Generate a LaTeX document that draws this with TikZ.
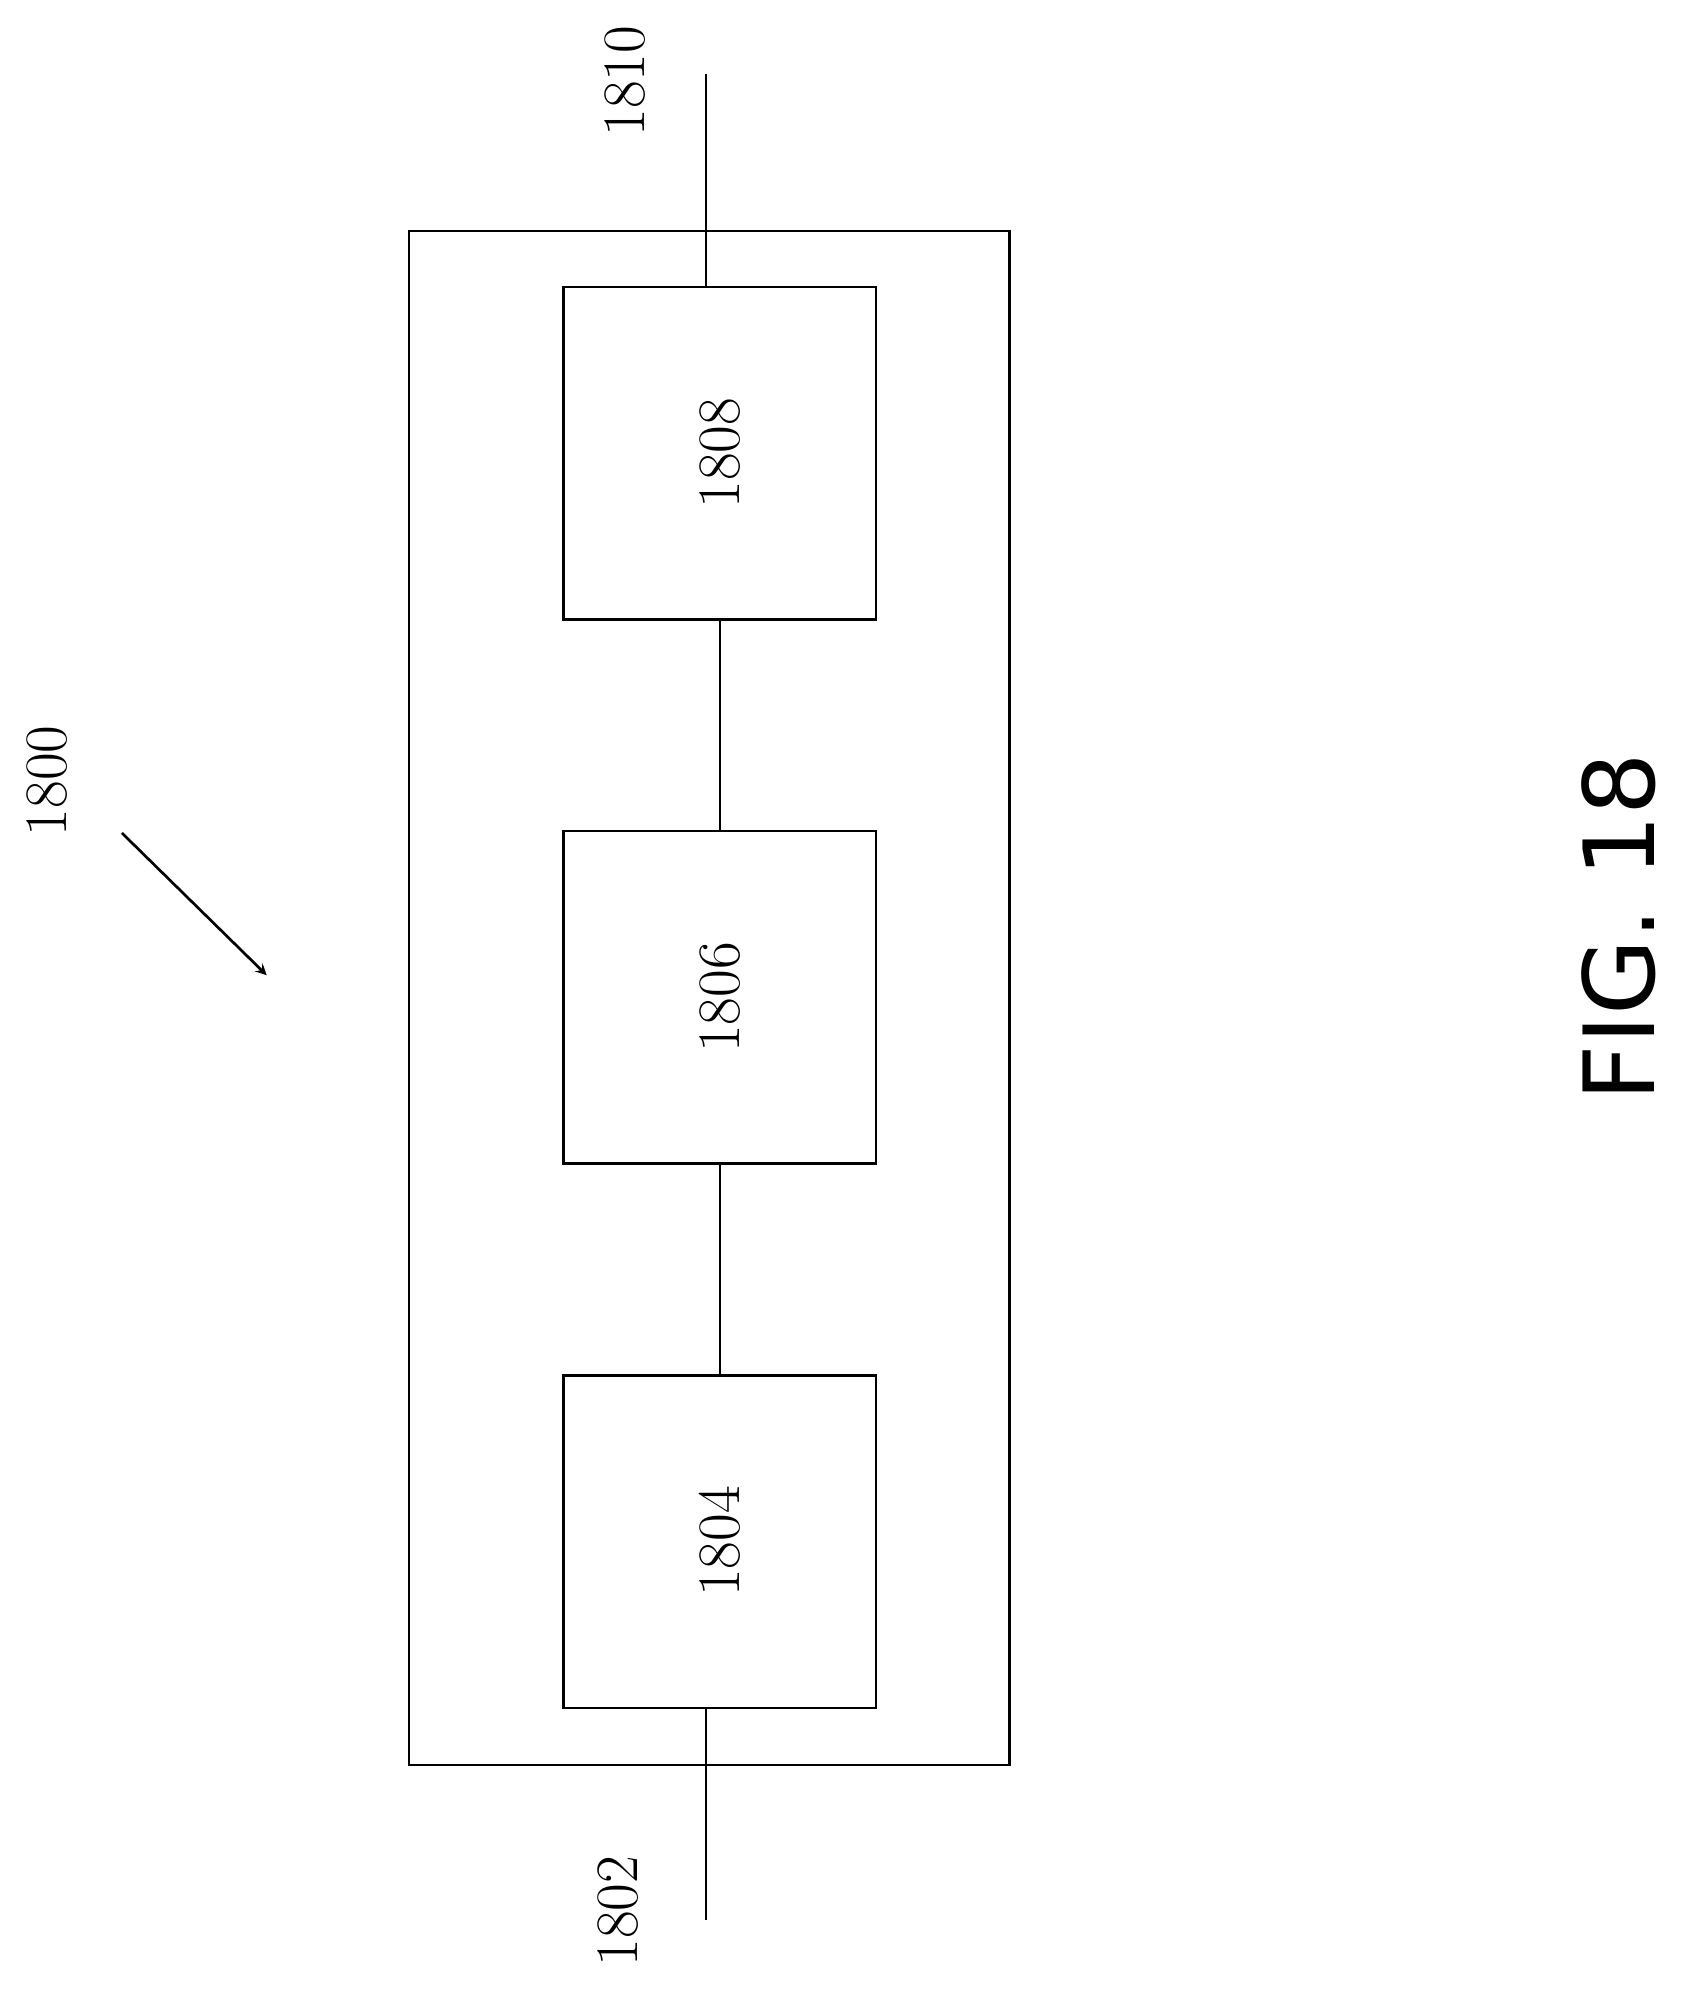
\documentclass[tikz,border=0pt]{standalone}
\usepackage{fontspec}
\newfontfamily\figfont{DejaVu Sans}
\begin{document}
\begin{tikzpicture}[x=0.02cm, y=-0.02cm,
	block/.style={draw, line width=1.2pt, minimum width=4.92cm, minimum height=5.24cm, inner sep=0pt},
	numtext/.style={rotate=90, font=\fontsize{27}{30}\selectfont}]

	\useasboundingbox (0,0) rectangle (1330,1579);

	\draw[line width=1.2pt] (322,182) rectangle (795,1390);

	\node[block] (b1808) at (567,357) {};
	\node[numtext] at (b1808) {1808};
	\node[block] (b1806) at (567,785.5) {};
	\node[numtext] at (b1806) {1806};
	\node[block] (b1804) at (567,1214) {};
	\node[numtext] at (b1804) {1804};

	\draw[line width=1.2pt] (b1808) -- (b1806);
	\draw[line width=1.2pt] (b1806) -- (b1804);

	% leads in and out
	\coordinate (top) at (556,58);
	\coordinate (bot) at (556,1512);
	\draw[line width=1.2pt] (top) -- (top |- b1808.north);
	\draw[line width=1.2pt] (bot) -- (bot |- b1804.south);

	\node[numtext] (l1810) at (492,64) {1810};
	\node[numtext] (l1802) at (487,1505) {1802};
	\node[numtext] (l1800) at (37,615) {1800};
	\coordinate (tip) at (210,768);
	\draw[line width=1.2pt, ->, >=stealth] (96,656) -- (tip);

	\node[rotate=90, font=\figfont\fontsize{44}{48}\selectfont] (fig) at (1275,730) {FIG. 18};
\end{tikzpicture}
\end{document}
